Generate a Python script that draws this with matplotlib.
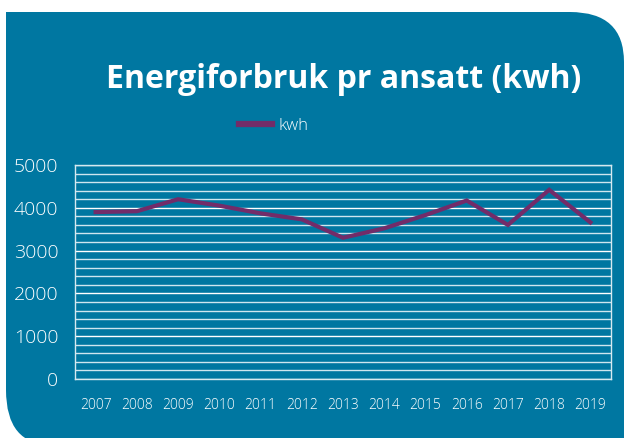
import matplotlib.pyplot as plt
from matplotlib.path import Path
from matplotlib.patches import PathPatch
from matplotlib.ticker import MultipleLocator

years = ['2007', '2008', '2009', '2010', '2011', '2012', '2013',
         '2014', '2015', '2016', '2017', '2018', '2019']
kwh = [3900, 3920, 4200, 4050, 3870, 3730, 3300,
       3520, 3830, 4170, 3600, 4420, 3660]

W, H = 624, 438
teal = '#0077a1'
purple = '#722c69'

fig = plt.figure(figsize=(W / 100, H / 100), dpi=100)
fig.patch.set_facecolor('white')


def fp(x, y):
    # pixel coords (y down) -> figure fraction
    return (x / W, 1 - y / H)


# bakgrunnsform med avrundede hjørner (oppe til høyre, nede til venstre)
verts = [fp(6, 12), fp(570, 12), fp(624, 12), fp(624, 62),
         fp(624, 445), fp(52, 445), fp(6, 445), fp(6, 390), fp(6, 12)]
codes = [Path.MOVETO, Path.LINETO, Path.CURVE3, Path.CURVE3,
         Path.LINETO, Path.LINETO, Path.CURVE3, Path.CURVE3, Path.CLOSEPOLY]
shape = PathPatch(Path(verts, codes), transform=fig.transFigure,
                  facecolor=teal, edgecolor='none', zorder=-1)
fig.patches.append(shape)

# plottområde
ax = fig.add_axes([75 / W, 1 - 379 / H, (611 - 75) / W, (379 - 165) / H])
ax.set_zorder(1)
ax.set_facecolor(teal)
x = list(range(len(years)))
line, = ax.plot(x, kwh, color=purple, linewidth=3.0, solid_joinstyle='miter', label='kwh', zorder=3)

ax.set_xlim(-0.5, len(years) - 0.5)
ax.set_ylim(0, 5000)
ax.yaxis.set_major_locator(MultipleLocator(1000))
ax.yaxis.set_minor_locator(MultipleLocator(200))
ax.set_xticks(x)
ax.set_xticklabels(years)

ax.grid(True, axis='y', which='major', color='white', linewidth=1.0)
ax.grid(True, axis='y', which='minor', color='#cfe6ef', linewidth=1.0)
ax.set_axisbelow(True)

for s in ax.spines.values():
    s.set_color('#d6e9f0')
    s.set_linewidth(1.0)

ax.tick_params(axis='both', which='both', length=0)
ax.tick_params(axis='y', colors='white', labelsize=14, pad=12)
ax.tick_params(axis='x', colors='white', labelsize=10, pad=14)
for lbl in ax.get_xticklabels() + ax.get_yticklabels():
    lbl.set_fontfamily('Open Sans')
    lbl.set_fontweight('light')

fig.text(344 / W, 1 - 80 / H, 'Energiforbruk pr ansatt (kwh)', color='white',
         fontsize=23, fontweight='bold', family='Open Sans', ha='center', va='center')

leg = fig.legend(handles=[line], loc='center', bbox_to_anchor=(274 / W, 1 - 126 / H),
                 frameon=False, handlelength=2.0, handletextpad=0.4,
                 prop={'family': 'Open Sans', 'size': 12, 'weight': 'light'})
leg.get_lines()[0].set_linewidth(4.5)
for t in leg.get_texts():
    t.set_color('white')

fig.savefig('out.png', dpi=100, facecolor=fig.get_facecolor())
